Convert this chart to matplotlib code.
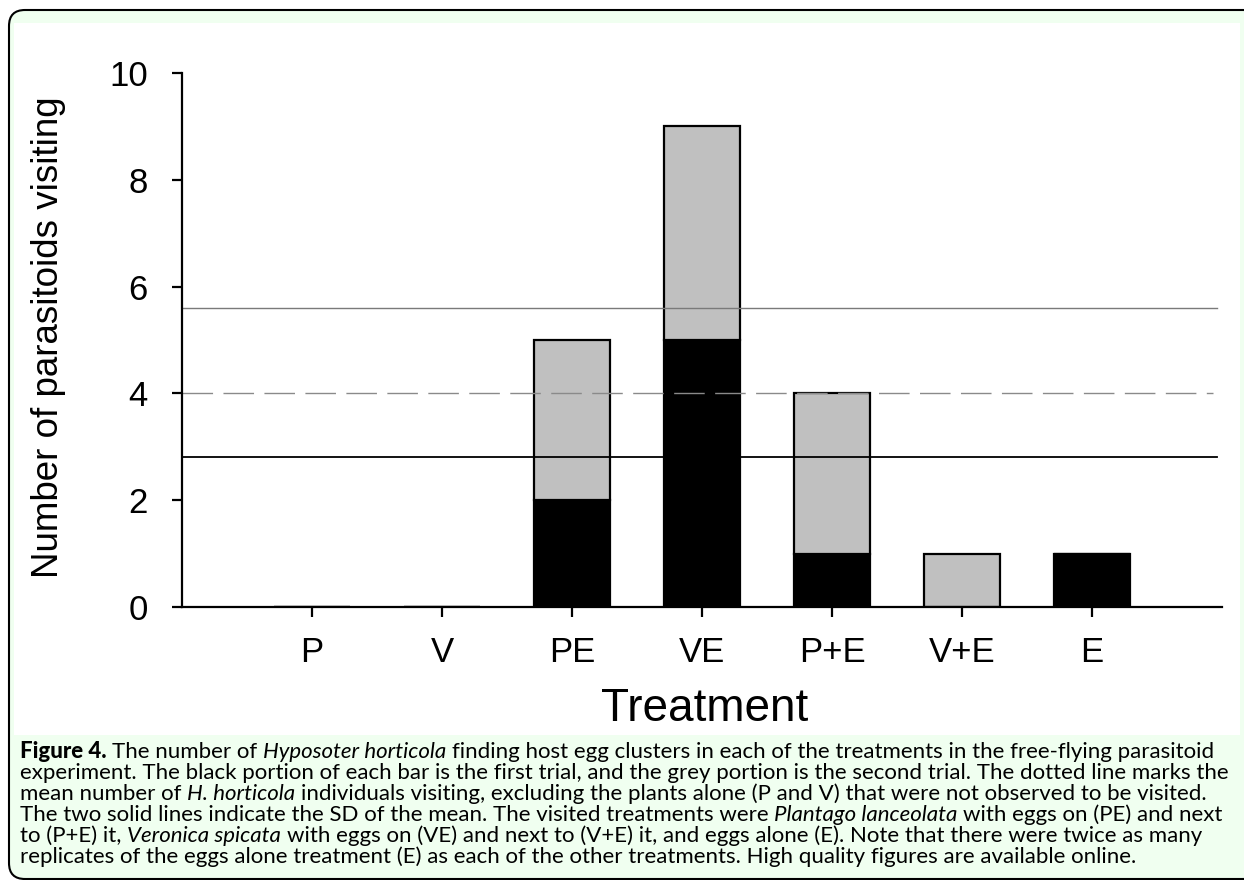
import matplotlib
matplotlib.use("Agg")
import matplotlib.pyplot as plt
from matplotlib.patches import FancyBboxPatch, Rectangle
from matplotlib.transforms import IdentityTransform

# ---------------- data ----------------
treatments = ["P", "V", "PE", "VE", "P+E", "V+E", "E"]
first_trial = [0, 0, 2, 5, 1, 0, 1]
second_trial = [0, 0, 3, 4, 3, 1, 0]
mean_visits = 4.0
sd_upper = 5.6
sd_lower = 2.8
y_ticks = [0, 2, 4, 6, 8, 10]

caption_lines = [
    [("Figure 4.", "bold"), (" The number of ", "normal"), ("Hyposoter horticola", "italic"),
     (" finding host egg clusters in each of the treatments in the free-flying parasitoid", "normal")],
    [("experiment. The black portion of each bar is the first trial, and the grey portion is the second trial. The dotted line marks the", "normal")],
    [("mean number of ", "normal"), ("H. horticola", "italic"),
     (" individuals visiting, excluding the plants alone (P and V) that were not observed to be visited.", "normal")],
    [("The two solid lines indicate the SD of the mean. The visited treatments were ", "normal"),
     ("Plantago lanceolata", "italic"), (" with eggs on (PE) and next", "normal")],
    [("to (P+E) it, ", "normal"), ("Veronica spicata", "italic"),
     (" with eggs on (VE) and next to (V+E) it, and eggs alone (E). Note that there were twice as many", "normal")],
    [("replicates of the eggs alone treatment (E) as each of the other treatments. High quality figures are available online.", "normal")],
]

W, H = 1244, 880
fig = plt.figure(figsize=(W / 100, H / 100), dpi=100)
fig.patch.set_facecolor("white")

# frame: light green rounded panel with white chart area
green = "#f0fff0"
frame = FancyBboxPatch((9, 1), 1250, 869, boxstyle="round,pad=0,rounding_size=16",
                       transform=IdentityTransform(), facecolor=green, edgecolor="black",
                       linewidth=1.5, zorder=-2)
fig.patches.append(frame)
white = Rectangle((14, H - 735), 1226, 735 - 23, transform=IdentityTransform(),
                  facecolor="white", edgecolor="none", zorder=-1)
fig.patches.append(white)

# ---------------- chart ----------------
ax_left, ax_right, ax_bottom, ax_top = 182, 1222, 607, 73
ax = fig.add_axes([ax_left / W, 1 - ax_bottom / H, (ax_right - ax_left) / W, (ax_bottom - ax_top) / H])
ax.set_facecolor("none")
ax.set_zorder(1)

x = list(range(len(treatments)))
bw = 0.59
ax.bar(x, first_trial, width=bw, color="black", edgecolor="black", linewidth=1.6, zorder=3)
ax.bar(x, second_trial, width=bw, bottom=first_trial, color="#c0c0c0", edgecolor="black",
       linewidth=1.6, zorder=3)

xmin_line, xmax_line = -1, 6.96
ax.plot([xmin_line, xmax_line], [sd_upper, sd_upper], color="#7a7a7a", linewidth=1.0, zorder=4)
ax.plot([xmin_line, 6.93], [mean_visits, mean_visits], color="#8a8a8a", linewidth=1.0,
        linestyle=(0, (22, 7.5)), zorder=4)
ax.plot([xmin_line, xmax_line], [sd_lower, sd_lower], color="black", linewidth=1.3, zorder=4)

ax.set_xlim(-1, 7)
ax.set_ylim(0, 10)
for s in ["top", "right"]:
    ax.spines[s].set_visible(False)
for s in ["left", "bottom"]:
    ax.spines[s].set_linewidth(1.6)
    ax.spines[s].set_zorder(5)

ax.set_yticks(y_ticks)
ax.set_yticklabels([str(v) for v in y_ticks])
ax.set_xticks(x)
ax.set_xticklabels(treatments)
ax.tick_params(axis="y", direction="out", length=7.5, width=1.6, pad=17, labelsize=25)
ax.tick_params(axis="x", direction="out", length=7, width=1.6, pad=14, labelsize=25)
for lab in ax.get_xticklabels() + ax.get_yticklabels():
    lab.set_fontfamily("Liberation Sans")

fig.text(49 / W, 1 - 337 / H, "Number of parasitoids visiting", rotation=90, ha="center",
         va="center", fontsize=26.5, family="Liberation Sans")
fig.text(705 / W, 1 - 709 / H, "Treatment", ha="center", va="center", fontsize=33,
         family="Liberation Sans")

# ---------------- caption ----------------
fig.canvas.draw()
renderer = fig.canvas.get_renderer()
cap_family = "Lato"


def style_kw(style, size):
    kw = dict(fontsize=size, family=cap_family)
    if style == "bold":
        kw["fontweight"] = "black"
    elif style == "italic":
        kw["fontstyle"] = "italic"
    return kw


def text_width(s, style, size):
    kw = style_kw(style, size)
    t1 = fig.text(0, 0, "|" + s + "|", **kw)
    t2 = fig.text(0, 0, "||", **kw)
    w = t1.get_window_extent(renderer).width - t2.get_window_extent(renderer).width
    t1.remove()
    t2.remove()
    return w


ref_w = sum(text_width(s, st, 10) for s, st in caption_lines[1])
cap_size = 10 * 1207 / ref_w

x0 = 20
baseline0 = 758
lh = 21
for i, line in enumerate(caption_lines):
    xp = x0
    yb = baseline0 + i * lh
    for s, st in line:
        kw = style_kw(st, cap_size)
        kw.update(va="baseline", ha="left")
        lead = len(s) - len(s.lstrip(" "))
        xs = xp + (text_width(" " * lead, st, cap_size) if lead else 0)
        fig.text(xs / W, 1 - yb / H, s.strip(" "), **kw)
        xp += text_width(s, st, cap_size)

fig.savefig("out.png", dpi=100, facecolor=fig.get_facecolor())
